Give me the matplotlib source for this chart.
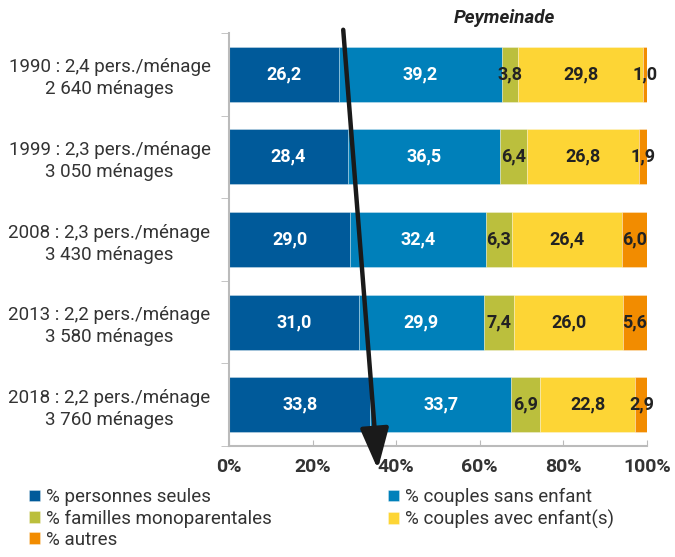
import matplotlib
matplotlib.use("Agg")
from matplotlib import pyplot as plt
import numpy as np

plt.rcParams['font.family'] = ['Roboto', 'DejaVu Sans']

# categories and values
years = ["1990 : 2,4 pers./ménage\n2 640 ménages",
         "1999 : 2,3 pers./ménage\n3 050 ménages",
         "2008 : 2,3 pers./ménage\n3 430 ménages",
         "2013 : 2,2 pers./ménage\n3 580 ménages",
         "2018 : 2,2 pers./ménage\n3 760 ménages"]
seules = [26.2, 28.4, 29.0, 31.0, 33.8]
sans_enfant = [39.2, 36.5, 32.4, 29.9, 33.7]
mono = [3.8, 6.4, 6.3, 7.4, 6.9]
avec_enfant = [29.8, 26.8, 26.4, 26.0, 22.8]
autres = [1.0, 1.9, 6.0, 5.6, 2.9]

series = [("% personnes seules", seules, "#005a9a", "white"),
          ("% couples sans enfant", sans_enfant, "#0080ba", "white"),
          ("% familles monoparentales", mono, "#bbbf3d", "#222222"),
          ("% couples avec enfant(s)", avec_enfant, "#fdd535", "#222222"),
          ("% autres", autres, "#f28c00", "#222222")]

fig = plt.figure(figsize=(6.75, 5.57), dpi=100)
ax = fig.add_axes([229/675, 111/557, 418/675, 413/557])

y = np.arange(len(years))
left = np.zeros(len(years))
handles = {}
for name, vals, col, tcol in series:
    vals = np.array(vals)
    b = ax.barh(y, vals, left=left, height=0.667, color=col,
                edgecolor=(1, 1, 1, 0.35), linewidth=0.6, label=name)
    handles[name] = b
    for yi, (l, v) in enumerate(zip(left, vals)):
        ax.text(l + v/2, yi, f"{v:.1f}".replace(".", ","), ha="center", va="center",
                color=tcol, fontsize=13, fontweight="bold")
    left = left + vals

ax.set_xlim(0, 100)
ax.set_ylim(len(years) - 0.5, -0.5)
ax.set_yticks(y)
ax.set_yticklabels(years, fontsize=13.5, color="#333333", ha="center",
                   multialignment="center", linespacing=1.3)
ax.tick_params(axis="y", length=0, pad=86)
ax.set_yticks(np.arange(-0.5, len(years)), minor=True)
ax.tick_params(axis="y", which="minor", length=6, color="#bbbbbb", direction="out")
ax.set_xticks([0, 20, 40, 60, 80, 100])
ax.set_xticklabels(["0%", "20%", "40%", "60%", "80%", "100%"], fontsize=14,
                   fontweight="bold", color="#333333")
ax.tick_params(axis="x", length=4, direction="in", color="#bbbbbb", pad=9)
for s in ["top", "right"]:
    ax.spines[s].set_visible(False)
for s in ["left", "bottom"]:
    ax.spines[s].set_color("#bbbbbb")
    ax.spines[s].set_linewidth(1.5)

fig.text(505/675, 1 - 18/557, "Peymeinade", ha="center", va="center",
         fontsize=13.5, fontweight="bold", fontstyle="italic", color="#222222")

# arrow drawn over the chart
fig.add_artist(matplotlib.patches.FancyArrowPatch(
    (343/675, 1 - 27/557), (378/675, 1 - 472/557), transform=fig.transFigure,
    arrowstyle="-|>,head_length=10,head_width=3.5", color="#1a1a1a", lw=3.2,
    mutation_scale=2.5))

order = ["% personnes seules", "% familles monoparentales", "% autres",
         "% couples sans enfant", "% couples avec enfant(s)"]
fig.legend([handles[k] for k in order], order, ncol=2, loc="upper left",
           bbox_to_anchor=(29/675, 1 - 488/557), frameon=False, fontsize=13.5,
           labelcolor="#333333",
           handlelength=0.6, handleheight=0.6, handletextpad=0.3,
           labelspacing=0.18, columnspacing=6.2, borderaxespad=0, borderpad=0)

fig.savefig("out.png", dpi=100)
